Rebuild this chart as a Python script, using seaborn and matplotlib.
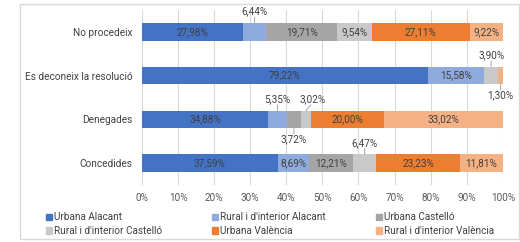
import numpy as np
import matplotlib.pyplot as plt
import matplotlib.patches as mpatches
import seaborn as sns

# categories (top to bottom) and series
categories = ['No procedeix', 'Es deconeix la resolució', 'Denegades', 'Concedides']
series = ['Urbana Alacant', "Rural i d'interior Alacant", 'Urbana Castelló',
          "Rural i d'interior Castelló", 'Urbana València', "Rural i d'interior València"]

# percentatges per serie
urbana_alacant = [27.98, 79.22, 34.88, 37.59]
rural_alacant = [6.44, 15.58, 5.35, 8.69]
urbana_castello = [19.71, 0.0, 3.72, 12.21]
rural_castello = [9.54, 3.90, 3.02, 6.47]
urbana_valencia = [27.11, 0.0, 20.00, 23.23]
rural_valencia = [9.22, 1.30, 33.02, 11.81]

x_ticks = [0, 10, 20, 30, 40, 50, 60, 70, 80, 90, 100]

COLORS = ['#4472C4', '#8FAADC', '#A5A5A5', '#C9C9C9', '#ED7D31', '#F4B183']
TEXT = '#404040'

# small segments labelled outside with a leader line: (cat, serie) -> (side, dx px)
OUTSIDE = {(0, 1): (1, 0), (1, 3): (1, 0), (1, 5): (-1, 0), (2, 1): (1, 0),
           (2, 2): (-1, 0), (2, 3): (1, 7), (3, 3): (1, 0)}

sns.set_style('whitegrid', {'grid.color': '#d9d9d9'})
plt.rcParams['font.family'] = ['Roboto', 'DejaVu Sans']
plt.rcParams['font.size'] = 7.2

values = np.array([urbana_alacant, rural_alacant, urbana_castello,
                   rural_castello, urbana_valencia, rural_valencia])
cum = np.cumsum(values, axis=0)

fig, ax = plt.subplots(figsize=(5.2, 2.42), dpi=100)
fig.subplots_adjust(left=0.273, right=0.967, bottom=0.236, top=0.959)

# stacked bars: draw cumulative layers from back to front
for j in range(len(series) - 1, -1, -1):
    sns.barplot(x=cum[j], y=categories, color=COLORS[j], orient='h', width=0.4,
                linewidth=0, saturation=1, ax=ax)

# etiquetes de dades
for i in range(len(categories)):
    for j in range(len(series)):
        v = values[j, i]
        if v <= 0:
            continue
        txt = f'{v:.2f}'.replace('.', ',') + '%'
        xc = cum[j, i] - v / 2
        if (i, j) in OUTSIDE:
            side, dx = OUTSIDE[(i, j)]
            edge = (xc, i - side * 0.2)
            # linia guia
            ax.annotate('', xy=edge, xytext=(dx * 0.72 * 0.7, side * 4.2),
                        textcoords='offset points', annotation_clip=False,
                        arrowprops=dict(arrowstyle='-', color='#a6a6a6', lw=0.7,
                                        shrinkA=0, shrinkB=0))
            ax.annotate(txt, xy=edge, xytext=(dx * 0.72, side * 8.2),
                        textcoords='offset points', ha='center', va='center',
                        color=TEXT, fontsize=7.2, annotation_clip=False)
        else:
            ax.text(xc, i, txt, ha='center', va='center', color=TEXT, fontsize=7.2)

ax.set_xlim(0, 100)
ax.set_xticks(x_ticks)
ax.set_xticklabels([f'{t}%' for t in x_ticks])
ax.set_xlabel('')
ax.set_ylabel('')
ax.grid(axis='y', visible=False)
ax.grid(axis='x', color='#d9d9d9', linewidth=0.8)
ax.set_axisbelow(True)
for s in ax.spines.values():
    s.set_visible(False)
ax.tick_params(axis='both', length=0, colors='#595959', labelsize=7.2)
ax.tick_params(axis='y', pad=7, colors=TEXT)
ax.tick_params(axis='x', pad=6)

# llegenda ordenada per files
handles = [mpatches.Patch(color=c, label=s) for c, s in zip(COLORS, series)]
order = [0, 3, 1, 4, 2, 5]
leg = fig.legend(handles=[handles[k] for k in order], loc='upper left',
                 bbox_to_anchor=(0.088, 0.122), ncol=3, frameon=False, fontsize=7.2,
                 handlelength=0.6, handleheight=0.6, handletextpad=0.2,
                 columnspacing=5.0, labelspacing=0.35, borderpad=0, borderaxespad=0)
for t in leg.get_texts():
    t.set_color(TEXT)

# marc del gràfic
fig.patches.append(mpatches.Rectangle((20 / 520, 1 - 239 / 242), 499 / 520, 235 / 242,
                                      transform=fig.transFigure, fill=False,
                                      ec='#d9d9d9', lw=1))

fig.savefig('out.png', dpi=100)
